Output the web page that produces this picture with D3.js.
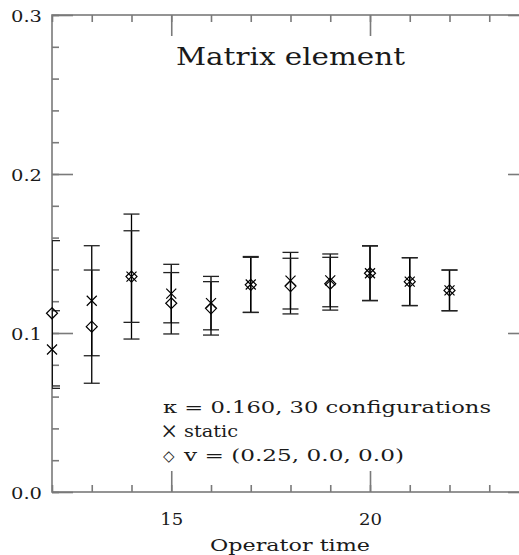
<!DOCTYPE html>
<html><head><meta charset="utf-8">
<script src="https://cdn.jsdelivr.net/npm/d3@7"></script>
<style>body{margin:0;background:#fff}svg{display:block}</style>
</head><body>
<script>
const times = [12, 13, 14, 15, 16, 17, 18, 19, 20, 21, 22];
const staticVal = [0.0896, 0.1203, 0.1355, 0.1248, 0.1188, 0.1305, 0.1329, 0.1331, 0.1376, 0.1323, 0.1268];
const staticErr = [0.0244, 0.0346, 0.0393, 0.0184, 0.0168, 0.0176, 0.0178, 0.0166, 0.0173, 0.0151, 0.0128];
const vVal = [0.1124, 0.1040, 0.1355, 0.1187, 0.1155, 0.1303, 0.1295, 0.1310, 0.1376, 0.1323, 0.1268];
const vErr = [0.0457, 0.0356, 0.0288, 0.0193, 0.0168, 0.0173, 0.0175, 0.0166, 0.0171, 0.0150, 0.0128];
const yTickLabels = ["0.0", "0.1", "0.2", "0.3"];
const xTickLabels = ["15", "20"];
const titleText = "Matrix element";
const xLabelText = "Operator time";
const legendLines = ["\u03BA = 0.160, 30 configurations", "static", "v = (0.25, 0.0, 0.0)"];

const W = 519, H = 555;
const L = 52, R = 529, T = 15, B = 492;
const FONT = "DejaVu Serif";
const TXT = "#1a1a1a";
const svg = d3.select("body").append("svg").attr("width", W).attr("height", H);
const x = d3.scaleLinear().domain([12, 24]).range([L, R]);
const y = d3.scaleLinear().domain([0, 0.3]).range([B, T]);

svg.append("defs").append("clipPath").attr("id", "clip")
  .append("rect").attr("x", L).attr("y", T).attr("width", R - L).attr("height", B - T);

const frameColor = "#7a7a7a";
const frameW = 1.6;
function styleAxis(g) {
  g.select(".domain").remove();
  g.selectAll("line").attr("stroke", frameColor).attr("stroke-width", frameW);
  g.selectAll("text").remove();
}
const xMinor = d3.range(12, 24.01, 1);
const xMajor = [15, 20];
const yMinor = d3.range(0, 0.3001, 0.02);
const yMajor = [0, 0.1, 0.2, 0.3];

svg.append("g").attr("transform", `translate(0,${B})`).call(d3.axisTop(x).tickValues(xMinor).tickSize(7)).call(styleAxis);
svg.append("g").attr("transform", `translate(0,${B})`).call(d3.axisTop(x).tickValues(xMajor).tickSize(21)).call(styleAxis);
svg.append("g").attr("transform", `translate(0,${T})`).call(d3.axisBottom(x).tickValues(xMinor).tickSize(7)).call(styleAxis);
svg.append("g").attr("transform", `translate(0,${T})`).call(d3.axisBottom(x).tickValues(xMajor).tickSize(21)).call(styleAxis);
svg.append("g").attr("transform", `translate(${L},0)`).call(d3.axisRight(y).tickValues(yMinor).tickSize(7)).call(styleAxis);
svg.append("g").attr("transform", `translate(${L},0)`).call(d3.axisRight(y).tickValues(yMajor).tickSize(21)).call(styleAxis);
svg.append("g").attr("transform", `translate(${R},0)`).call(d3.axisLeft(y).tickValues(yMinor).tickSize(7)).call(styleAxis);
svg.append("g").attr("transform", `translate(${R},0)`).call(d3.axisLeft(y).tickValues(yMajor).tickSize(21)).call(styleAxis);
svg.append("rect").attr("x", L).attr("y", T).attr("width", R - L).attr("height", B - T)
  .attr("fill", "none").attr("stroke", frameColor).attr("stroke-width", frameW);

function txt(s, xp, yp, size, len, font) {
  const t = svg.append("text").attr("x", xp).attr("y", yp).attr("font-family", font || FONT)
    .attr("font-size", size).attr("fill", TXT).text(s);
  if (len) t.attr("textLength", len).attr("lengthAdjust", "spacingAndGlyphs");
  return t;
}

// tick labels
yMajor.forEach((d, i) => txt(yTickLabels[i], 11, y(d) + 7, 16.5, 31));
xMajor.forEach((d, i) => txt(xTickLabels[i], x(d) - 11, 525, 16.5, 23));
txt(xLabelText, 210, 551, 16.5, 160);
txt(titleText, 176, 65, 25, 229);

// legend
txt(legendLines[0], 163, 413, 16.5, 328);
txt("\u00D7", 161, 441, 29, null, "Liberation Serif");
txt(legendLines[1], 184, 437, 16.5, 54);
txt("\u25C7", 163, 461, 15);
txt(legendLines[2], 184, 461, 16.5, 220);

// data
const errG = svg.append("g").attr("clip-path", "url(#clip)");
function errorBars(vals, errs) {
  const g = errG.append("g").attr("stroke", "#000").attr("stroke-width", 1.3).attr("fill", "none");
  times.forEach((t, i) => {
    const cx = x(t), lo = y(vals[i] - errs[i]), hi = y(vals[i] + errs[i]);
    g.append("line").attr("x1", cx).attr("x2", cx).attr("y1", lo).attr("y2", hi);
    g.append("line").attr("x1", cx - 8).attr("x2", cx + 8).attr("y1", lo).attr("y2", lo).attr("stroke", "#222");
    g.append("line").attr("x1", cx - 8).attr("x2", cx + 8).attr("y1", hi).attr("y2", hi).attr("stroke", "#222");
  });
}
errorBars(staticVal, staticErr);
errorBars(vVal, vErr);
const cs = 5;
const crossG = svg.append("g").attr("stroke", "#000").attr("stroke-width", 1.2);
times.forEach((t, i) => {
  const cx = x(t), cy = y(staticVal[i]);
  crossG.append("path").attr("d", `M${cx - cs},${cy - cs}L${cx + cs},${cy + cs}M${cx - cs},${cy + cs}L${cx + cs},${cy - cs}`);
});
const ds = 5.5;
const diaG = svg.append("g").attr("stroke", "#000").attr("stroke-width", 1.2).attr("fill", "none");
times.forEach((t, i) => {
  const cx = x(t), cy = y(vVal[i]);
  diaG.append("path").attr("d", `M${cx},${cy - ds}L${cx + ds},${cy}L${cx},${cy + ds}L${cx - ds},${cy}Z`);
});
</script>
</body></html>
